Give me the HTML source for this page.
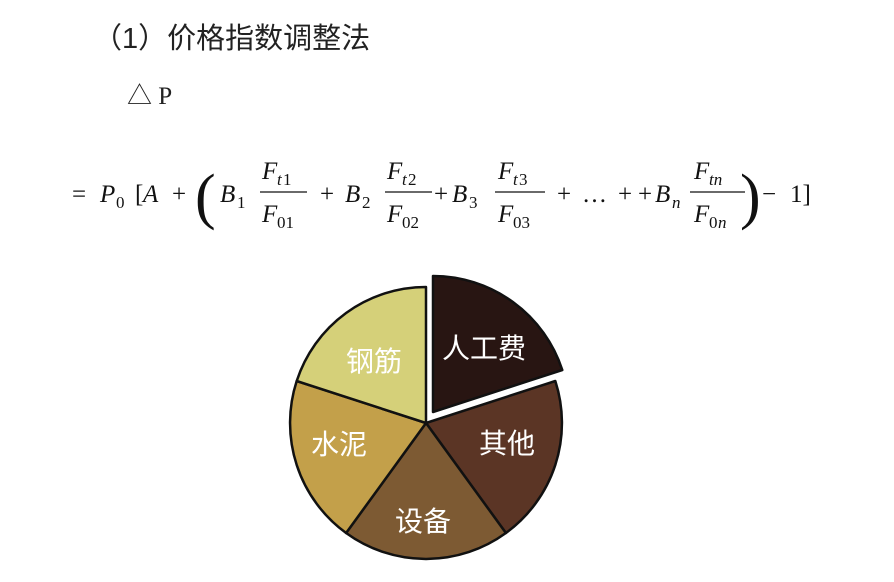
<!DOCTYPE html>
<html><head><meta charset="utf-8"><style>
body{margin:0;background:#fff;width:894px;height:577px;overflow:hidden}
</style></head><body>
<svg width="894" height="577" xmlns="http://www.w3.org/2000/svg">
<text x="93" y="48" font-family="Liberation Sans, Noto Sans CJK SC, sans-serif" font-size="29" fill="#222">（1）价格指数调整法</text>
<text x="127" y="104" font-family="Liberation Serif, Noto Sans CJK SC, serif" font-size="25" fill="#222">△ P</text>
<g font-family="Liberation Serif, serif" font-size="25" fill="#111">
<text x="72" y="202">=</text>
<text x="100" y="202" font-style="italic">P</text><text x="116" y="208" font-size="17">0</text>
<text x="135" y="202">[</text>
<text x="143" y="202" font-style="italic">A</text>
<text x="172" y="202">+</text>
<text x="195" y="217" font-size="62" transform="scale(1,1)">(</text>
<text x="220" y="202" font-style="italic">B</text><text x="237" y="208" font-size="17">1</text>
<line x1="260" y1="192" x2="307" y2="192" stroke="#111" stroke-width="1.3"/>
<text x="262" y="179" font-style="italic">F</text><text x="277" y="185" font-size="17" font-style="italic">t</text><text x="283" y="185" font-size="17">1</text>
<text x="262" y="222" font-style="italic">F</text><text x="277" y="228" font-size="17">01</text>
<text x="320" y="202">+</text>
<text x="345" y="202" font-style="italic">B</text><text x="362" y="208" font-size="17">2</text>
<line x1="385" y1="192" x2="432" y2="192" stroke="#111" stroke-width="1.3"/>
<text x="387" y="179" font-style="italic">F</text><text x="402" y="185" font-size="17" font-style="italic">t</text><text x="408" y="185" font-size="17">2</text>
<text x="387" y="222" font-style="italic">F</text><text x="402" y="228" font-size="17">02</text>
<text x="434" y="202">+</text>
<text x="452" y="202" font-style="italic">B</text><text x="469" y="208" font-size="17">3</text>
<line x1="495" y1="192" x2="545" y2="192" stroke="#111" stroke-width="1.3"/>
<text x="498" y="179" font-style="italic">F</text><text x="513" y="185" font-size="17" font-style="italic">t</text><text x="519" y="185" font-size="17">3</text>
<text x="498" y="222" font-style="italic">F</text><text x="513" y="228" font-size="17">03</text>
<text x="557" y="202">+</text>
<text x="582" y="202">…</text>
<text x="618" y="202">+</text>
<text x="638" y="202">+</text>
<text x="655" y="202" font-style="italic">B</text><text x="672" y="208" font-size="17" font-style="italic">n</text>
<line x1="690" y1="192" x2="745" y2="192" stroke="#111" stroke-width="1.3"/>
<text x="694" y="179" font-style="italic">F</text><text x="709" y="185" font-size="17" font-style="italic">tn</text>
<text x="694" y="222" font-style="italic">F</text><text x="709" y="228" font-size="17">0</text><text x="718" y="228" font-size="17" font-style="italic">n</text>
<text x="740" y="217" font-size="62">)</text>
<text x="762" y="202">−</text>
<text x="790" y="202">1]</text>
</g>
<g stroke="#111" stroke-width="2.5" stroke-linejoin="round">
<path d="M426,423 L555.3,381 A136,136 0 0,1 505.9,533 Z" fill="#5b3525"/>
<path d="M426,423 L505.9,533 A136,136 0 0,1 346.1,533 Z" fill="#7d5a33"/>
<path d="M426,423 L346.1,533 A136,136 0 0,1 296.7,381 Z" fill="#c3a04a"/>
<path d="M426,423 L296.7,381 A136,136 0 0,1 426,287 Z" fill="#d5d079"/>
<path d="M433,412 L433,276 A136,136 0 0,1 562.3,370 Z" fill="#281512"/>
</g>
<g font-family="Liberation Sans, Noto Sans CJK SC, sans-serif" font-size="28" fill="#fff">
<text x="442" y="358">人工费</text>
<text x="346" y="371">钢筋</text>
<text x="311" y="454">水泥</text>
<text x="479" y="453">其他</text>
<text x="395" y="531">设备</text>
</g>
</svg>
</body></html>
